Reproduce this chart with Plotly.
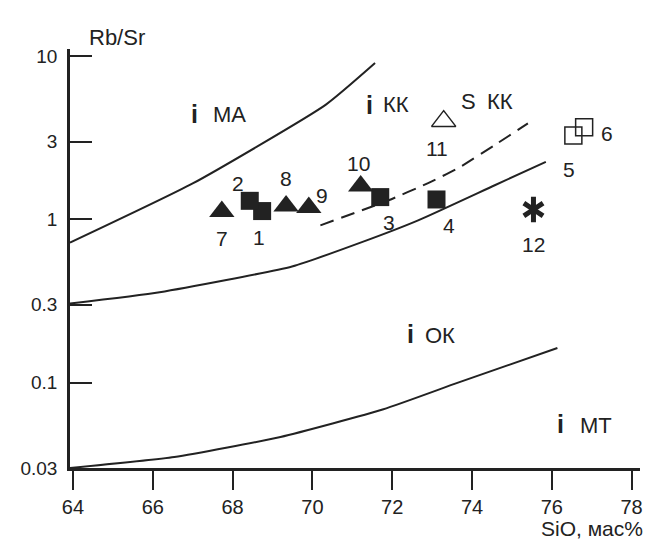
import numpy as np
import plotly.graph_objects as go

# ---------------- data ----------------
# filled squares (samples 1-4)
sq_sio2 = [68.74, 68.43, 71.70, 73.11]
sq_rbsr = [1.125, 1.30, 1.37, 1.325]
sq_labels = ["1", "2", "3", "4"]

# open squares (samples 5-6)
osq_sio2 = [76.54, 76.81]
osq_rbsr = [3.27, 3.67]
osq_labels = ["5", "6"]

# filled triangles (samples 7-10)
tri_sio2 = [67.73, 69.34, 69.91, 71.21]
tri_rbsr = [1.12, 1.21, 1.185, 1.60]
tri_labels = ["7", "8", "9", "10"]

# open triangle (sample 11)
otri_sio2 = [73.29]
otri_rbsr = [4.0]
otri_labels = ["11"]

# asterisk (sample 12)
ast_sio2 = [75.54]
ast_rbsr = [1.15]
ast_labels = ["12"]

# field boundaries
b1_x = [63.925, 67.0, 70.33, 71.57]
b1_y = [0.72, 1.66, 5.03, 9.07]
b2_x = [63.925, 66.17, 69.49, 71.24, 72.65, 74.57, 75.85]
b2_y = [0.305, 0.358, 0.515, 0.726, 0.987, 1.62, 2.25]
bd_x = [70.20, 71.91, 72.90, 73.65, 74.65, 75.40]
bd_y = [0.92, 1.31, 1.67, 2.06, 2.94, 3.88]
b3_x = [63.925, 66.54, 69.20, 71.78, 73.65, 76.14]
b3_y = [0.03, 0.035, 0.0465, 0.0687, 0.100, 0.163]

x_ticks = [64, 66, 68, 70, 72, 74, 76, 78]
y_ticks = [0.03, 0.1, 0.3, 1, 3, 10]
y_ticktext = ["0.03", "0.1", "0.3", "1", "3", "10"]

# ---------------- style ----------------
INK = "#222222"
FONT = "Liberation Sans, Arial, sans-serif"

label_shift = {
    "1": (-3, -26), "2": (-12, 17), "3": (9, -25), "4": (12, -26),
    "5": (-4, -34), "6": (23, -6), "7": (0, -27), "8": (0, 27),
    "9": (13, 12), "10": (-2, 23), "11": (-7, -27), "12": (0, -35),
}

fig = go.Figure()

line_style = dict(color=INK, width=2, shape="spline", smoothing=0.5)
for bx, by in [(b1_x, b1_y), (b2_x, b2_y), (b3_x, b3_y)]:
    fig.add_trace(go.Scatter(x=bx, y=by, mode="lines", line=line_style,
                             showlegend=False, hoverinfo="skip"))
fig.add_trace(go.Scatter(x=bd_x, y=bd_y, mode="lines",
                         line=dict(color=INK, width=2, dash="14px,8px",
                                   shape="spline", smoothing=0.5),
                         showlegend=False, hoverinfo="skip"))

fig.add_trace(go.Scatter(x=sq_sio2, y=sq_rbsr, mode="markers",
                         marker=dict(symbol="square", size=18, color=INK,
                                     line=dict(width=0)),
                         showlegend=False))
fig.add_trace(go.Scatter(x=osq_sio2, y=osq_rbsr, mode="markers",
                         marker=dict(symbol="square-open", size=17, color=INK,
                                     line=dict(width=1.5, color=INK)),
                         showlegend=False))
fig.add_trace(go.Scatter(x=tri_sio2, y=tri_rbsr, mode="markers",
                         marker=dict(symbol="triangle-up", size=22, color=INK,
                                     line=dict(width=0)),
                         showlegend=False))
fig.add_trace(go.Scatter(x=otri_sio2, y=otri_rbsr, mode="markers",
                         marker=dict(symbol="triangle-up-open", size=21, color=INK,
                                     line=dict(width=1.5, color=INK)),
                         showlegend=False))
for sym in ["y-up", "y-down"]:
    fig.add_trace(go.Scatter(x=ast_sio2, y=ast_rbsr, mode="markers",
                             marker=dict(symbol=sym, size=16, color=INK,
                                         line=dict(width=5, color=INK)),
                             showlegend=False))

# sample number labels
annotations = []
for xs, ys, labs in [(sq_sio2, sq_rbsr, sq_labels), (osq_sio2, osq_rbsr, osq_labels),
                     (tri_sio2, tri_rbsr, tri_labels), (otri_sio2, otri_rbsr, otri_labels),
                     (ast_sio2, ast_rbsr, ast_labels)]:
    for xv, yv, lab in zip(xs, ys, labs):
        dx, dy = label_shift[lab]
        annotations.append(dict(x=xv, y=np.log10(yv), text=lab, showarrow=False,
                                xshift=dx, yshift=dy,
                                font=dict(family=FONT, size=21, color=INK)))

# field labels
fields = [
    ("<b>i</b>", 67.04, 4.41, 25), ("МА", 67.93, 4.41, 22),
    ("<b>i</b>", 71.42, 5.03, 25), ("КК", 72.09, 5.03, 22),
    ("S", 73.90, 5.27, 22), ("КК", 74.69, 5.27, 22),
    ("<b>i</b>", 72.46, 0.199, 25), ("ОК", 73.19, 0.194, 22),
    ("<b>i</b>", 76.21, 0.0561, 25), ("МТ", 77.10, 0.0543, 22),
]
for txt, xv, yv, fs in fields:
    annotations.append(dict(x=xv, y=np.log10(yv), text=txt, showarrow=False,
                            font=dict(family=FONT, size=fs, color=INK)))

# axis titles
annotations.append(dict(xref="paper", yref="paper", x=0.0302, y=1.0613,
                        text="Rb/Sr", showarrow=False,
                        font=dict(family=FONT, size=22, color=INK)))
annotations.append(dict(xref="paper", yref="paper", x=1.0093, y=-0.1759,
                        xanchor="right", text="SiO, мас%", showarrow=False,
                        font=dict(family=FONT, size=21, color=INK)))

# page body has an 8px margin -> figure is 8px smaller and margins shifted
fig.update_layout(
    width=643, height=545,
    margin=dict(l=62, r=8, t=41, b=85),
    paper_bgcolor="white", plot_bgcolor="white",
    showlegend=False,
    annotations=annotations,
    font=dict(family=FONT, color=INK),
)
fig.update_xaxes(range=[63.925, 78.21], tickvals=x_ticks, showgrid=False,
                 zeroline=False, showline=True, linewidth=2.5, linecolor=INK,
                 ticks="outside", ticklen=19, tickwidth=1.5, tickcolor=INK,
                 tickfont=dict(family=FONT, size=20, color=INK))
fig.update_yaxes(type="log", range=[np.log10(0.03), 1.044], tickvals=y_ticks,
                 ticktext=y_ticktext, showgrid=False, zeroline=False,
                 showline=True, linewidth=2.5, linecolor=INK,
                 ticks="inside", ticklen=22, tickwidth=1.5, tickcolor=INK,
                 ticklabelstandoff=6,
                 tickfont=dict(family=FONT, size=19, color=INK))

fig.write_html("out.html")
